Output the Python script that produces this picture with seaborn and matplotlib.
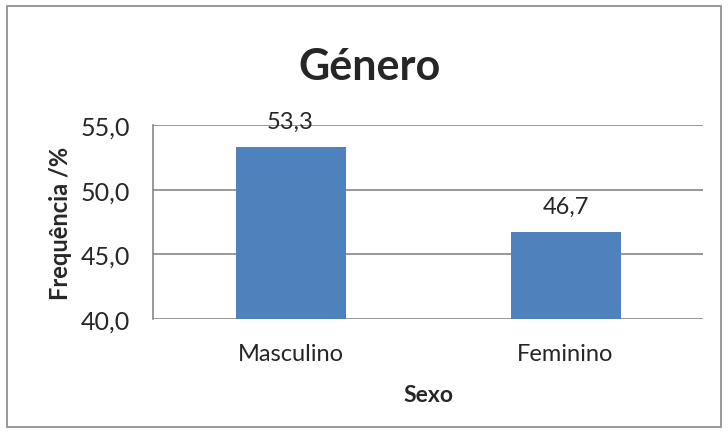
import numpy as np
import pandas as pd
import matplotlib
matplotlib.use("Agg")
import matplotlib.pyplot as plt
import seaborn as sns
from matplotlib.patches import Rectangle


# =========================================================
# DATA
# =========================================================

categories = ["Masculino", "Feminino"]

frequencies = [53.3, 46.7]

y_ticks = [40.0, 45.0, 50.0, 55.0]

df = pd.DataFrame({
    "Sexo": categories,
    "Frequencia": frequencies
})


# =========================================================
# STYLE
# =========================================================

sns.set_style("white")

plt.rcParams["font.family"] = ["Lato", "DejaVu Sans"]

grid_color = "#868686"

bar_color = "#4F81BD"


# =========================================================
# PLOT
# =========================================================

fig = plt.figure(figsize=(7.28, 4.35), dpi=100)

ax = fig.add_axes([0.2102, 0.2644, 0.7555, 0.4459])

sns.barplot(
    data=df,
    x="Sexo",
    y="Frequencia",
    color=bar_color,
    saturation=1,
    width=0.4,
    linewidth=0,
    ax=ax
)

ax.set_xlim(-0.5, 1.5)
ax.set_ylim(40, 55)

ax.set_yticks(y_ticks)
ax.set_yticklabels(
    [f"{v:.1f}".replace(".", ",") for v in y_ticks],
    fontsize=18
)

ax.tick_params(axis="x", length=0, labelsize=17, pad=17)
ax.tick_params(axis="y", length=6.5, color=grid_color, width=1, pad=10)

ax.yaxis.grid(True, color=grid_color, linewidth=1.2)
ax.set_axisbelow(True)

for side in ["top", "right", "bottom"]:
    ax.spines[side].set_visible(False)

ax.spines["left"].set_color(grid_color)
ax.spines["left"].set_linewidth(1.2)

for i, value in enumerate(frequencies):
    ax.annotate(
        f"{value:.1f}".replace(".", ","),
        (i, value),
        xytext=(0, 14),
        textcoords="offset points",
        ha="center",
        va="baseline",
        fontsize=17
    )

ax.set_xlabel("Sexo", fontsize=16.5, fontweight="bold", labelpad=15)
ax.set_ylabel("Frequência /%", fontsize=17, fontweight="bold", labelpad=6)

fig.text(
    0.508,
    0.816,
    "Género",
    ha="center",
    va="baseline",
    fontsize=31,
    fontweight="bold"
)

fig.patches.append(
    Rectangle(
        (0.009, 0.016),
        0.982,
        0.968,
        transform=fig.transFigure,
        fill=False,
        edgecolor=grid_color,
        linewidth=1.2
    )
)

fig.savefig("out.png", dpi=100)
